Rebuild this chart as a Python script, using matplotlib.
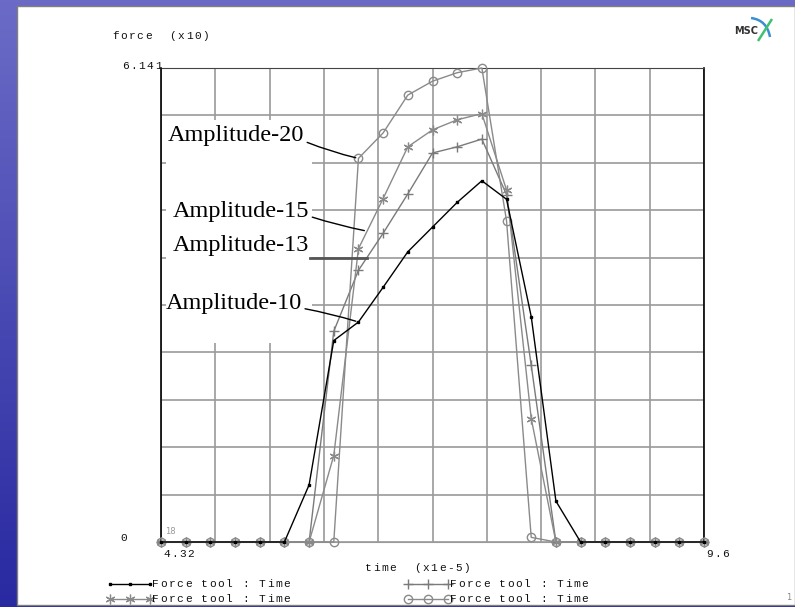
import matplotlib.pyplot as plt
import numpy as np
from matplotlib.patches import Rectangle, PathPatch
from matplotlib.path import Path
from matplotlib.lines import Line2D

# Fuerza en la herramienta (x10) frente al tiempo (x1e-5) para cada amplitud
tiempo = [4.32, 4.56, 4.80, 5.04, 5.28, 5.52, 5.76, 6.00, 6.24, 6.48, 6.72, 6.96,
          7.20, 7.44, 7.68, 7.92, 8.16, 8.40, 8.64, 8.88, 9.12, 9.36, 9.60]
amp10 = [0, 0, 0, 0, 0, 0, 0.74, 2.61, 2.85, 3.30, 3.76, 4.08,
         4.40, 4.68, 4.44, 2.92, 0.53, 0, 0, 0, 0, 0, 0]
amp13 = [0, 0, 0, 0, 0, 0, 0, 2.73, 3.52, 4.00, 4.51, 5.04,
         5.12, 5.22, 4.50, 2.29, 0, 0, 0, 0, 0, 0, 0]
amp15 = [0, 0, 0, 0, 0, 0, 0, 1.12, 3.80, 4.45, 5.12, 5.34,
         5.47, 5.55, 4.56, 1.60, 0, 0, 0, 0, 0, 0, 0]
amp20 = [0, 0, 0, 0, 0, 0, 0, 0, 4.97, 5.30, 5.79, 5.97,
         6.08, 6.141, 4.16, 0.06, 0, 0, 0, 0, 0, 0, 0]
fuerza_max = 6.141

W, H = 795, 607
fig = plt.figure(figsize=(7.95, 6.07), dpi=100)


def fx(x):
    return x / W


def fy(y):
    return 1 - y / H


def mono(x, y, s, size=8, pitch=8.2, color='#111111'):
    # texto tipo plotter: caracteres con paso fijo
    for k, ch in enumerate(s):
        if ch != ' ':
            fig.text(fx(x + k * pitch), fy(y), ch, fontsize=size,
                     family='Liberation Mono', ha='left', va='center', color=color)


# fondo azul de la diapositiva y panel blanco
bg = fig.add_axes([0, 0, 1, 1], zorder=-1)
top = np.array([0.42, 0.42, 0.78])
bot = np.array([0.16, 0.16, 0.63])
g = np.linspace(0, 1, 256)[:, None, None]
img = top * (1 - g) + bot * g
bg.imshow(np.repeat(img, 4, axis=1), aspect='auto', extent=[0, 1, 0, 1])
bg.add_patch(Rectangle((fx(17), fy(605)), 1 - fx(17), fy(6) - fy(605),
                       facecolor='white', edgecolor='#808080', lw=1))
bg.set_xlim(0, 1)
bg.set_ylim(0, 1)
bg.set_axis_off()

ax = fig.add_axes([161 / W, 1 - 542 / H, 543 / W, 474 / H])
ax.set_xlim(tiempo[0], tiempo[-1])
ax.set_ylim(0, fuerza_max)
ax.set_xticks(np.linspace(tiempo[0], tiempo[-1], 11))
ax.set_yticks(np.linspace(0, fuerza_max, 11))
ax.tick_params(length=0, labelbottom=False, labelleft=False)
ax.set_axisbelow(True)
ax.grid(color='#9a9a9a', lw=1.2)
for lado in ['left', 'right']:
    ax.spines[lado].set_color('black')
    ax.spines[lado].set_linewidth(1.2)
ax.spines['top'].set_color('#444444')
ax.spines['bottom'].set_color('#999999')

# recuadro blanco detras de las etiquetas
ax.add_patch(Rectangle((5 / 543, 199 / 474), 146 / 543, 223 / 474,
                       transform=ax.transAxes, facecolor='white',
                       edgecolor='none', zorder=1))

series = [
    (amp13, dict(color='#7a7a7a', marker='+', ms=7, mew=1)),
    (amp15, dict(color='#8a8a8a', marker=(6, 2, 0), ms=7, mew=0.9)),
    (amp20, dict(color='#8a8a8a', marker='o', mfc='none', ms=6, mew=1)),
    (amp10, dict(color='black', marker='s', ms=2)),
]
for datos, est in series:
    ax.plot(tiempo, datos, lw=1, zorder=3, clip_on=False, **est)


def entre(s, i, f):
    return (tiempo[i] + f * (tiempo[i + 1] - tiempo[i]), s[i] + f * (s[i + 1] - s[i]))


# etiquetas con lineas de referencia
etiquetas = [
    ('Amplitude-20', (168, 136), (tiempo[8], amp20[8]), 'black', 1.0, 0.2),
    ('Amplitude-15', (173, 211), entre(amp15, 8, 0.35), 'black', 1.0, 0.15),
    ('Amplitude-13', (173, 245), entre(amp13, 8, 0.34), '#555555', 2.0, None),
    ('Amplitude-10', (166, 303), (tiempo[8], amp10[8]), 'black', 1.0, -0.15),
]
for txt, (x, y), xy, col, lw, rad in etiquetas:
    if rad is None:
        ax.text(fx(x), fy(y), txt, transform=fig.transFigure, fontsize=17.5,
                family='Liberation Serif', ha='left', va='center', zorder=4)
        x_end = ax.transData.transform(xy)[0]
        fig.add_artist(Line2D([fx(310), x_end / W], [fy(258), fy(258)],
                              color=col, lw=lw, transform=fig.transFigure))
    else:
        ax.annotate(txt, xy=xy, xycoords='data',
                    xytext=(x, H - y), textcoords='figure pixels',
                    fontsize=17.5, family='Liberation Serif', ha='left', va='center',
                    zorder=4, annotation_clip=False,
                    arrowprops=dict(arrowstyle='-', color=col, lw=lw,
                                    relpos=(1.0, 0.25), shrinkA=0, shrinkB=2,
                                    connectionstyle=f'arc3,rad={rad * 0.2}'))

# textos de los ejes
mono(112, 36, 'force  (x10)')
mono(122, 66, f'{fuerza_max:.3f}')
mono(120, 538, '0')
fig.text(fx(165), fy(532), '18', fontsize=6, color='#9a9a9a', va='center')
mono(163, 554, f'{tiempo[0]:.2f}')
mono(706, 554, f'{tiempo[-1]:g}')
mono(365, 568, 'time  (x1e-5)')

# leyenda
leyenda = [(series[3][1], 108, 584), (series[0][1], 406, 584),
           (series[1][1], 108, 599), (series[2][1], 406, 599)]
for est, x0, y0 in leyenda:
    xs = [fx(x0 + 2), fx(x0 + 22), fx(x0 + 42)]
    fig.add_artist(Line2D(xs, [fy(y0)] * 3, lw=1, transform=fig.transFigure, **est))
    mono(x0 + 44, y0, 'Force tool : Time')

fig.text(fx(786), fy(597), '1', fontsize=6, color='#888888', va='center')

# logotipo MSC
fig.text(fx(734), fy(31), 'MSC', fontsize=7, weight='bold', color='#333333',
         va='center', ha='left')
azul = Path([(fx(751), fy(18)), (fx(767), fy(20)), (fx(770), fy(37))],
            [Path.MOVETO, Path.CURVE3, Path.CURVE3])
verde = Path([(fx(758), fy(41)), (fx(765), fy(30)), (fx(772), fy(19))],
             [Path.MOVETO, Path.CURVE3, Path.CURVE3])
fig.add_artist(PathPatch(azul, transform=fig.transFigure, fill=False,
                         edgecolor='#3a8fd0', lw=1.8))
fig.add_artist(PathPatch(verde, transform=fig.transFigure, fill=False,
                         edgecolor='#40c070', lw=1.8))

plt.savefig('out.png', dpi=100)
